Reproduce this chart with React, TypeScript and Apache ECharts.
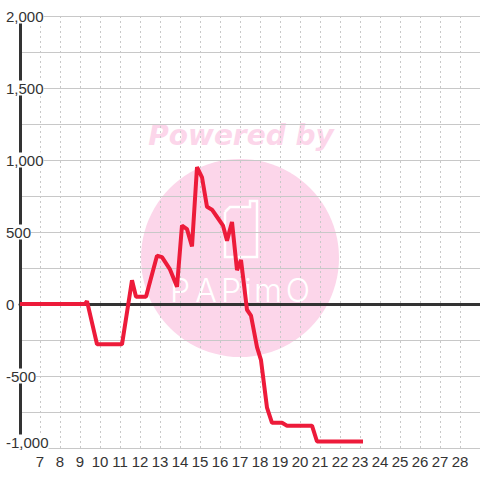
import React, { useEffect, useRef } from "react";
import * as echarts from "echarts";

const TIMES = [6, 9.25, 9.35, 9.85, 11.1, 11.6, 11.8, 12.3, 12.85, 13.1, 13.5, 13.85, 14.1, 14.35, 14.6, 14.85, 15.1, 15.35, 15.6, 15.95, 16.15, 16.35, 16.6, 16.85, 17.05, 17.35, 17.55, 17.85, 18.05, 18.35, 18.6, 19.1, 19.35, 20.6, 20.85, 23.15];
const VALUES = [0, 0, 20, -280, -280, 165, 50, 50, 335, 325, 240, 120, 545, 520, 400, 950, 880, 675, 655, 585, 545, 440, 570, 235, 305, -40, -80, -300, -390, -720, -825, -825, -845, -845, -955, -955];
const X_MIN = 6;
const X_MAX = 29;
const Y_MIN = -1000;
const Y_MAX = 2000;
const WATERMARK_TEXT = "Powered by";
const LOGO_LETTERS = ["P", "A", "P", "i", "m", "O"];

const FONT = "'Liberation Sans', Arial, sans-serif";
const PINK = "#fcd6ea";

export default function App() {
  const ref = useRef<HTMLDivElement>(null);
  useEffect(() => {
    if (!ref.current) return;
    const chart = echarts.init(ref.current, null, { renderer: "svg" });
    const fmt = (v: number) => v.toLocaleString("en-US");
    const letterX = [180, 206, 231, 248, 268, 298];
    const option: any = {
      animation: false,
      backgroundColor: "#fff",
      grid: { left: 20, right: 0, top: 16, bottom: 32, containLabel: false, outerBoundsMode: "none" },
      graphic: [
        { type: "circle", z: -10, silent: true, shape: { cx: 240, cy: 258, r: 99 }, style: { fill: PINK } },
        {
          type: "text", z: -10, silent: true, x: 241, y: 135,
          style: { text: WATERMARK_TEXT, fill: PINK, font: "italic bold 28px 'DejaVu Sans', sans-serif", align: "center", verticalAlign: "middle" },
        },
        {
          type: "polyline", z: -9, silent: true,
          shape: { points: [[225, 212], [230, 207], [250, 207], [250, 201], [257, 201], [257, 257], [225, 257], [225, 212]] },
          style: { stroke: "#fff", lineWidth: 2.5, fill: null },
        },
        ...LOGO_LETTERS.map((ch, i) => ({
          type: "text", z: -9, silent: true, x: letterX[i], y: 290,
          style: { text: ch, fill: "#fff", font: "300 32px Inter, Roboto, sans-serif", align: "center", verticalAlign: "middle" },
        })),
      ],
      xAxis: [
        {
          type: "value", position: "bottom", min: X_MIN, max: X_MAX, interval: 1,
          axisLine: { show: true, onZero: true, lineStyle: { color: "#333", width: 3 } },
          axisTick: { show: false }, axisLabel: { show: false }, splitLine: { show: false },
        },
        {
          type: "value", position: "bottom", min: X_MIN, max: X_MAX, interval: 1,
          axisLine: { show: false, onZero: false }, axisTick: { show: false },
          axisLabel: { show: true, margin: 6, showMinLabel: false, showMaxLabel: false, fontSize: 15, color: "#333", fontFamily: FONT },
          splitLine: { show: true, lineStyle: { color: "#c8c8c8", width: 1, type: [2, 3] } },
        },
      ],
      yAxis: {
        type: "value", min: Y_MIN, max: Y_MAX, interval: 500,
        axisLine: { show: true, onZero: false, lineStyle: { color: "#333", width: 3 } },
        axisTick: { show: false },
        minorTick: { show: false, splitNumber: 2 },
        minorSplitLine: { show: true, lineStyle: { color: "#c8c8c8", width: 1 } },
        splitLine: { show: true, lineStyle: { color: "#c8c8c8", width: 1 } },
        axisLabel: {
          show: true, margin: 14, align: "left",
          formatter: (v: number) => (v === Y_MIN ? `{a|${fmt(v)}}\n{s| }` : `{a|${fmt(v)}}`),
          rich: {
            a: { backgroundColor: "#fff", fontSize: 15, lineHeight: 14, color: "#333", fontFamily: FONT },
            s: { fontSize: 1, lineHeight: 12 },
          },
        },
      },
      series: [
        {
          type: "line", xAxisIndex: 1, yAxisIndex: 0,
          data: TIMES.map((t, i) => [t, VALUES[i]]),
          symbol: "none", lineStyle: { color: "#ed1b3a", width: 4 },
          z: 5,
        },
      ],
    };
    chart.setOption(option);
    return () => chart.dispose();
  }, []);
  return <div ref={ref} style={{ position: "fixed", left: 0, top: 0, width: 480, height: 480 }} />;
}
